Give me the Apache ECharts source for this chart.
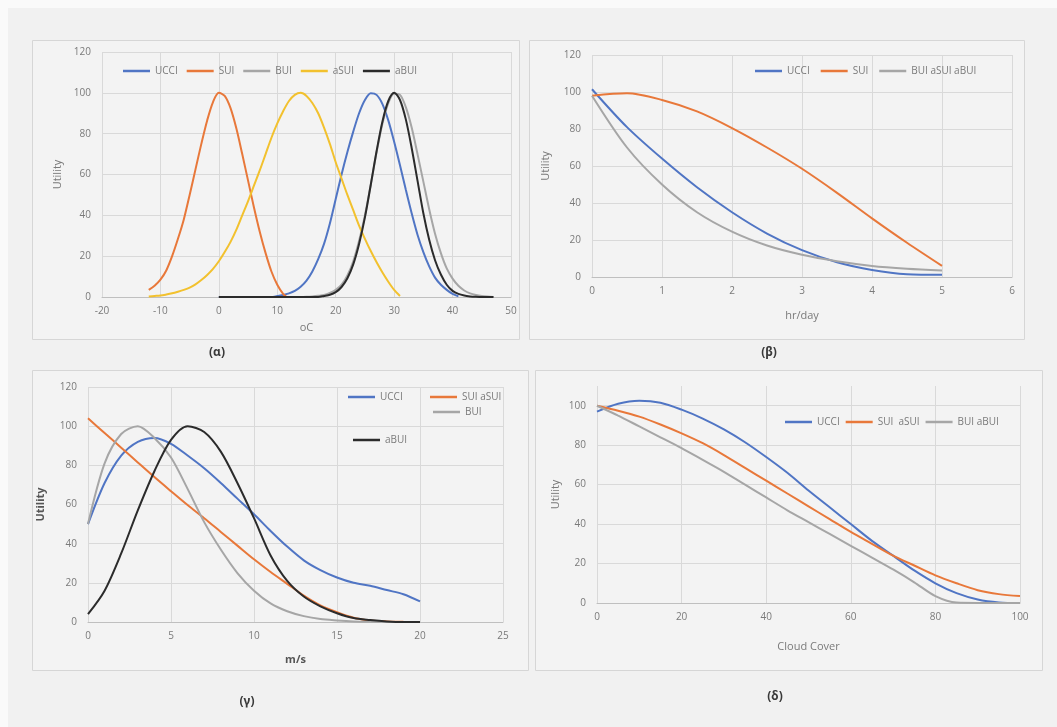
<!DOCTYPE html>
<html>
<head>
<meta charset="utf-8">
<title>Utility curves</title>
<script src="https://cdn.jsdelivr.net/npm/echarts@6/dist/echarts.min.js"></script>
<style>
  html, body { margin: 0; padding: 0; background: #fafafa; }
  #chart { width: 1057px; height: 727px; }
</style>
</head>
<body>
<div id="chart"></div>
<script>
// (α) temperature, oC
const alphaX_SUI = [-12, -11, -10, -9, -8, -7, -6, -5, -4, -3, -2, -1, 0, 1, 2, 3, 4, 5, 6, 7, 8, 9, 10, 11, 11.5]
const alphaSUI = [3.5, 5.5, 8.5, 13, 20, 28.5, 38, 50, 62.5, 75, 86.5, 95.5, 100, 98.5, 92.5, 82.5, 70, 57, 44, 32, 21.5, 12.5, 6, 1.5, 0.3]
const alphaX_aSUI = [-12, -11, -10, -9, -8, -7, -6, -5, -4, -3, -2, -1, 0, 1, 2, 3, 4, 5, 6, 7, 8, 9, 10, 11, 12, 13, 14, 15, 16, 17, 18, 19, 20, 21, 22, 23, 24, 25, 26, 27, 28, 29, 30, 31]
const alphaASUI = [0.3, 0.5, 0.7, 1.2, 1.8, 2.6, 3.5, 4.6, 6.2, 8.3, 10.8, 13.8, 17.5, 22, 27, 33, 40, 47, 54.5, 62, 70, 78, 85, 91, 96, 99, 100, 98.5, 95, 90, 83, 75, 66, 58, 50, 42.5, 35, 28.5, 22.5, 17, 12, 7.5, 3.5, 0.5]
const alphaX_UCCI = [0, 1, 2, 3, 4, 5, 6, 7, 8, 9, 10, 11, 12, 13, 14, 15, 16, 17, 18, 19, 20, 21, 22, 23, 24, 25, 26, 27, 28, 29, 30, 31, 32, 33, 34, 35, 36, 37, 38, 39, 40, 41]
const alphaUCCI = [0, 0, 0, 0, 0, 0, 0, 0, 0, 0, 0.5, 1, 1.8, 3, 5, 8, 12.5, 18.5, 26, 36, 48, 60, 71, 81, 90, 96.5, 99.8, 99, 94.5, 86.5, 76, 64.5, 52.5, 41, 30.5, 22, 15, 9.5, 6, 3.5, 1.5, 0.3]
const alphaX_BUI = [0, 1, 2, 3, 4, 5, 6, 7, 8, 9, 10, 11, 12, 13, 14, 15, 16, 17, 18, 19, 20, 21, 22, 23, 24, 25, 26, 27, 28, 29, 30, 31, 32, 33, 34, 35, 36, 37, 38, 39, 40, 41, 42, 43, 44, 45, 46, 47]
const alphaBUI = [0, 0, 0, 0, 0, 0, 0, 0, 0, 0, 0, 0, 0, 0, 0, 0.1, 0.3, 0.6, 1, 2, 3.5, 6, 10.5, 17.5, 27.5, 40, 55, 71, 85, 95, 99.5, 99, 93, 83, 70, 56.5, 43, 31, 21.5, 14, 9, 5.5, 3.2, 1.8, 1, 0.5, 0.2, 0]
const alphaABUI = [0, 0, 0, 0, 0, 0, 0, 0, 0, 0, 0, 0, 0, 0, 0, 0, 0, 0, 0.5, 1.1, 2.4, 4.9, 9.2, 16, 26, 39, 55, 71.5, 86, 96, 100, 96.5, 87, 73, 57, 41, 28, 18, 11, 6, 3, 1.5, 0.7, 0.3, 0.1, 0, 0, 0]

// (β) hr/day
const betaX = [0, 0.5, 1, 1.5, 2, 2.5, 3, 3.5, 4, 4.5, 5]
const betaUCCI = [101.5, 81, 64, 48.5, 35, 23.5, 14.5, 8, 3.8, 1.5, 1.2]
const betaSUI = [98, 99.3, 95.7, 89.5, 80.5, 70, 58.5, 45.5, 31.7, 18.5, 6]
const betaBUI = [98, 70, 50, 35, 24.5, 17, 12, 8.5, 6, 4.5, 3.5]

// (γ) m/s
const gammaX = [0, 1, 2, 3, 4, 5, 6, 7, 8, 9, 10, 11, 12, 13, 14, 15, 16, 17, 18, 19, 20]
const gammaUCCI = [50, 71, 85, 92, 94, 91, 85, 78.5, 71, 63, 55, 46.5, 38.5, 31.5, 26.5, 22.7, 20, 18.5, 16.3, 14.2, 10.5]
const gammaSUI = [104, 96.5, 89, 81.5, 74, 66.8, 59.7, 53, 46, 39, 32, 25.5, 19.5, 13.5, 8.5, 5, 2.2, 0.8, 0.3, 0.1, 0]
const gammaBUI = [50, 81, 96, 100, 94, 84, 68, 51, 37, 25, 16, 9.5, 5.5, 3, 1.5, 0.8, 0.3, 0.1, 0, 0, 0]
const gammaABUI = [4, 16, 35, 57, 77, 93, 100, 97, 87, 71, 53, 34, 21, 13, 8, 4.5, 2, 1, 0.3, 0, 0]

// (δ) cloud cover
const deltaX = [0, 5, 10, 15, 20, 25, 30, 35, 40, 45, 50, 55, 60, 65, 70, 75, 80, 85, 90, 95, 100]
const deltaUCCI = [97, 101, 102.5, 101.5, 98, 93.5, 88, 81.5, 74, 66, 57, 48.5, 40, 31.5, 24, 16.5, 10, 5, 1.8, 0.3, 0]
const deltaSUI = [100, 97.5, 94.5, 90.5, 86, 81, 75, 68.5, 62, 55.5, 49, 42.5, 36, 30, 24, 19, 14, 10, 6.5, 4.5, 3.5]
const deltaBUI = [100, 95, 89.5, 84, 78.5, 72.5, 66.5, 60, 53.5, 47, 41, 35, 29, 23, 17, 10.5, 3.5, 0.2, 0, 0, 0]

const BLUE = '#5075c4'
const ORANGE = '#e8783a'
const GRAY = '#a6a6a6'
const YELLOW = '#f2c12e'
const BLACK = '#2b2b2b'
const FONT = 'Open Sans'
const LABEL = '#7a7a7a'

const pairs = (xs, ys) => xs.map((x, i) => [x, ys[i]])

// series names carry a panel prefix so the four legends stay apart
function line (name, idx, xs, ys, color) {
  return {
    name: name,
    type: 'line',
    xAxisIndex: idx,
    yAxisIndex: idx,
    data: pairs(xs, ys),
    smooth: 0.3,
    showSymbol: false,
    symbol: 'none',
    color: color,
    lineStyle: { width: 2, color: color }
  }
}

function xAxisOf (idx, min, max, interval, name, nameGap, bold) {
  return {
    type: 'value',
    gridIndex: idx,
    min: min,
    max: max,
    interval: interval,
    name: name,
    nameLocation: 'middle',
    nameGap: nameGap,
    nameTextStyle: { color: bold ? '#555' : LABEL, fontSize: 11, fontFamily: FONT, fontWeight: bold ? 'bold' : 'normal' },
    axisLine: { show: true, lineStyle: { color: '#bfbfbf', width: 1 } },
    axisTick: { show: false },
    axisLabel: { color: LABEL, fontSize: 10, fontFamily: FONT, margin: 9 },
    splitLine: { show: true, lineStyle: { color: '#d9d9d9', width: 1 } }
  }
}

function yAxisOf (idx, max, name, nameGap, bold) {
  return {
    type: 'value',
    gridIndex: idx,
    min: 0,
    max: max,
    interval: 20,
    name: name,
    nameLocation: 'middle',
    nameGap: nameGap,
    nameTextStyle: { color: bold ? '#555' : LABEL, fontSize: 11, fontFamily: FONT, fontWeight: bold ? 'bold' : 'normal' },
    axisLine: { show: false },
    axisTick: { show: false },
    axisLabel: { color: LABEL, fontSize: 10, fontFamily: FONT, margin: 11, showMaxLabel: max % 20 === 0 },
    splitLine: { show: true, showMaxLine: max % 20 === 0, lineStyle: { color: '#d9d9d9', width: 1 } }
  }
}

function legendOf (names, left, top, gap) {
  return {
    data: names,
    left: left,
    top: top,
    padding: 0,
    orient: 'horizontal',
    itemGap: gap,
    itemWidth: 27,
    itemHeight: 2.5,
    icon: 'rect',
    formatter: (name) => name.slice(2),
    textStyle: { color: LABEL, fontSize: 10, fontFamily: FONT }
  }
}

function panel (x, y, w, h) {
  return {
    type: 'rect',
    z: -10,
    shape: { x: x, y: y, width: w, height: h },
    style: { fill: '#f3f3f3', stroke: '#d6d6d6', lineWidth: 1 }
  }
}

function caption (text, x, y) {
  return {
    type: 'text',
    z: -5,
    style: {
      text: text,
      x: x,
      y: y,
      textAlign: 'center',
      textVerticalAlign: 'middle',
      font: 'bold 12px "Noto Sans"',
      fill: '#3a3a3a'
    }
  }
}

const chart = echarts.init(document.getElementById('chart'), null, { renderer: 'canvas' })

const option = {
  animation: false,
  backgroundColor: 'transparent',
  graphic: [
    { type: 'rect', z: -20, shape: { x: 8, y: 8, width: 1049, height: 719 }, style: { fill: '#f1f1f1' } },
    panel(32.5, 40.5, 487, 299),
    panel(529.5, 40.5, 495, 299),
    panel(32.5, 370.5, 496, 300),
    panel(535.5, 370.5, 507, 300),
    caption('(α)', 217, 353),
    caption('(β)', 769, 353),
    caption('(γ)', 247, 702),
    caption('(δ)', 775, 697)
  ],
  grid: [
    { left: 102, top: 52, width: 409, height: 245 },
    { left: 592, top: 55, width: 420, height: 222 },
    { left: 88, top: 387, width: 415, height: 235 },
    { left: 597, top: 386, width: 423, height: 217 }
  ],
  xAxis: [
    xAxisOf(0, -20, 50, 10, 'oC', 25, false),
    xAxisOf(1, 0, 6, 1, 'hr/day', 33, false),
    xAxisOf(2, 0, 25, 5, 'm/s', 32, true),
    xAxisOf(3, 0, 100, 20, 'Cloud Cover', 38, false)
  ],
  yAxis: [
    yAxisOf(0, 120, 'Utility', 39, false),
    yAxisOf(1, 120, 'Utility', 41, false),
    yAxisOf(2, 120, 'Utility', 42, true),
    yAxisOf(3, 110, 'Utility', 36, false)
  ],
  legend: [
    legendOf(['a:UCCI', 'a:SUI', 'a:BUI', 'a:aSUI', 'a:aBUI'], 123, 66, 9),
    legendOf(['b:UCCI', 'b:SUI', 'b:BUI aSUI aBUI'], 755, 66, 11),
    legendOf(['g:UCCI'], 348, 392, 10),
    legendOf(['g:SUI aSUI'], 430, 392, 10),
    legendOf(['g:BUI'], 433, 407, 10),
    legendOf(['g:aBUI'], 353, 435, 10),
    legendOf(['d:UCCI', 'd:SUI  aSUI', 'd:BUI aBUI'], 785, 417, 6)
  ],
  series: [
    line('a:UCCI', 0, alphaX_UCCI, alphaUCCI, BLUE),
    line('a:SUI', 0, alphaX_SUI, alphaSUI, ORANGE),
    line('a:BUI', 0, alphaX_BUI, alphaBUI, GRAY),
    line('a:aSUI', 0, alphaX_aSUI, alphaASUI, YELLOW),
    line('a:aBUI', 0, alphaX_BUI, alphaABUI, BLACK),

    line('b:UCCI', 1, betaX, betaUCCI, BLUE),
    line('b:SUI', 1, betaX, betaSUI, ORANGE),
    line('b:BUI aSUI aBUI', 1, betaX, betaBUI, GRAY),

    line('g:UCCI', 2, gammaX, gammaUCCI, BLUE),
    line('g:SUI aSUI', 2, gammaX, gammaSUI, ORANGE),
    line('g:BUI', 2, gammaX, gammaBUI, GRAY),
    line('g:aBUI', 2, gammaX, gammaABUI, BLACK),

    line('d:UCCI', 3, deltaX, deltaUCCI, BLUE),
    line('d:SUI  aSUI', 3, deltaX, deltaSUI, ORANGE),
    line('d:BUI aBUI', 3, deltaX, deltaBUI, GRAY)
  ]
}

chart.setOption(option)
</script>
</body>
</html>
